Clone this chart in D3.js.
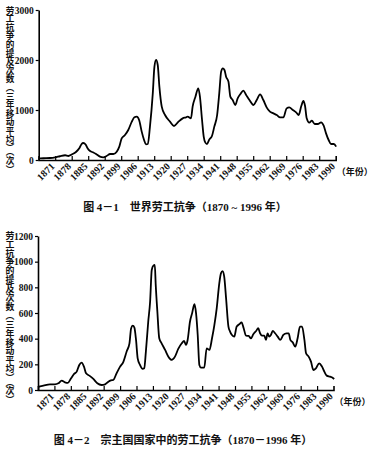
<!DOCTYPE html>
<html><head><meta charset="utf-8">
<script src="https://cdn.jsdelivr.net/npm/d3@7"></script>
<style>
html,body{margin:0;padding:0;background:#fff;}
svg{display:block;}
</style>
</head><body>
<svg id="c" width="372" height="460"></svg>
<script>
// ---- data ----
const xTickYears = [1871,1878,1885,1892,1899,1906,1913,1920,1927,1934,1941,1948,1955,1962,1969,1976,1983,1990];
const yTicks1 = [0,1000,2000,3000];
const yTicks2 = [0,200,400,600,800,1000,1200];

const years1 = [1871,1873,1875.8,1878,1880,1882.2,1883.6,1885,1886.8,1888.3,1889.2,1889.9,1890.9,1891.8,1892.8,1894.2,1895.6,1897,1898.4,1899.8,1901.3,1902.7,1904.1,1905.2,1906.2,1907.6,1909,1910.5,1911.6,1912.6,1913.6,1914.7,1915.7,1916.5,1917.3,1918.2,1919.4,1920.1,1920.8,1921.5,1922.2,1923.2,1924.6,1926.7,1928.4,1930.3,1932.1,1933.5,1934.2,1935.6,1936.3,1937.5,1938.7,1939.4,1940.3,1941,1941.7,1942.4,1943.4,1944.5,1945.5,1946.7,1947.6,1948.4,1949.1,1949.8,1950.5,1951.5,1952.3,1953.3,1954.4,1955.4,1956.6,1957.8,1959,1960.4,1962.1,1963.5,1964.9,1966.3,1967.7,1969.1,1970.6,1972,1973.4,1974.8,1976.2,1977.3,1978.8,1980.2,1981.3,1982.4,1983.3,1984,1984.7,1985.8,1986.9,1988.1,1989.4,1990.8,1991.9,1992.9,1994,1995,1996.2,1997.2];
const values1 = [30,35,40,53,75,95,80,110,160,240,320,340,310,230,180,150,110,67,53,80,120,120,167,267,433,500,600,767,853,867,800,567,400,313,320,667,1333,1867,2000,1900,1467,1067,900,767,680,767,833,853,867,833,1067,1267,1433,1267,800,467,347,320,413,480,667,900,1333,1767,1833,1800,1667,1567,1267,1200,1100,1233,1320,1387,1300,1200,1100,1200,1313,1200,1053,967,933,900,853,853,1033,1053,1000,953,900,1080,1180,1080,833,747,787,720,720,753,687,533,400,320,320,267];

const years2 = [1871,1873.3,1876.1,1878.2,1879.7,1881.1,1882.5,1883.7,1885.1,1886.4,1887.5,1888.6,1889.6,1890.6,1891.5,1892.9,1894.6,1896.3,1898.1,1899.6,1901,1902.1,1903.1,1904.5,1906,1907.4,1908.8,1910,1910.7,1911.4,1912.1,1912.8,1913.5,1914.5,1915.6,1916.3,1917,1918,1918.8,1919.5,1920.2,1920.8,1921.2,1921.9,1922.7,1923.7,1925.2,1926.6,1928,1929.4,1930.8,1932.3,1933.3,1934.1,1934.8,1935.8,1936.7,1937.7,1938.4,1939.1,1939.8,1940.5,1941.9,1942.9,1944.1,1945.2,1946.2,1947.2,1948.3,1949,1949.7,1950.4,1951.2,1952.2,1952.9,1953.7,1954.7,1955.7,1956.8,1957.8,1958.7,1959.7,1960.8,1961.8,1962.8,1964,1964.9,1965.7,1966.5,1967.5,1968.2,1968.9,1969.6,1970.3,1971.1,1972.1,1973.2,1974.3,1975.6,1977,1977.9,1978.6,1979.6,1980.7,1981.7,1982.7,1983.6,1984.6,1985.3,1986.4,1987.4,1988.4,1989.5,1990.9,1992.1,1993.1,1994.1,1995.5,1996.6,1997.3];
const values2 = [25,34,44,44,52,73,60,55,91,125,143,195,213,182,130,112,86,52,39,44,65,75,78,130,182,220,300,364,480,501,486,390,247,195,164,169,299,532,688,935,969,974,818,610,403,364,312,260,234,260,320,364,382,351,390,532,597,668,597,429,195,174,174,325,312,403,506,636,831,909,927,883,714,494,455,429,416,494,512,527,481,423,421,403,434,460,481,442,423,423,390,442,416,429,460,442,416,390,429,442,442,390,371,338,403,494,494,390,286,260,221,156,169,208,182,143,112,104,96,86];

const yLabelText = "劳工抗争的提及次数（三年移动平均）（次）";
const xUnitText = "（年份）";
const title1 = "图 4－1　世界劳工抗争（1870 ~ 1996 年）";
const title2 = "图 4－2　宗主国国家中的劳工抗争（1870－1996 年）";

const svg = d3.select("#c");
const serif = "'Liberation Serif','Noto Sans CJK SC',serif";
const cjk = "'Noto Sans CJK SC',sans-serif";

function drawChart(cfg){
  const g = svg.append("g");
  const x = d3.scaleLinear().domain([1871,1997]).range([cfg.x0, cfg.x1]);
  const y = d3.scaleLinear().domain([0, cfg.ymax]).range([cfg.yb, cfg.yt]);

  // x axis
  const xa = d3.axisBottom(x).tickValues(xTickYears).tickFormat(d3.format("d"))
      .tickSizeInner(-4).tickSizeOuter(-4);
  const gx = g.append("g").attr("transform",`translate(0,${cfg.yb})`).call(xa);
  gx.select(".domain").attr("stroke","#000").attr("stroke-width",1.6);
  gx.selectAll(".tick line").attr("stroke","#000").attr("stroke-width",1.2);
  gx.selectAll(".tick text")
    .attr("x",0).attr("y",0).attr("dy",0)
    .attr("text-anchor","end")
    .attr("transform","translate(16,7) rotate(-45)")
    .attr("font-family",serif).attr("font-size",10).attr("font-weight","bold").attr("fill","#111");

  // y axis
  const ya = d3.axisLeft(y).tickValues(cfg.yticks).tickFormat(d3.format("d"))
      .tickSizeInner(3).tickSizeOuter(0).tickPadding(2);
  const gy = g.append("g").attr("transform",`translate(${cfg.x0},0)`).call(ya);
  gy.select(".domain").attr("stroke","#000").attr("stroke-width",1.6);
  gy.selectAll(".tick line").attr("stroke","#000").attr("stroke-width",1.2);
  gy.selectAll(".tick text")
    .attr("font-family",serif).attr("font-size",9.5).attr("font-weight","bold").attr("fill","#111");

  // line
  const line = d3.line().x(d=>x(d[0])).y(d=>y(d[1])).curve(d3.curveMonotoneX);
  g.append("path").datum(d3.zip(cfg.years, cfg.values))
    .attr("fill","none").attr("stroke","#000").attr("stroke-width",1.8)
    .attr("stroke-linejoin","round").attr("d",line);

  // y label (vertical writing)
  g.append("text").text(yLabelText)
    .attr("x",10).attr("y",cfg.labTop)
    .style("writing-mode","vertical-rl")
    .style("text-orientation","mixed")
    .attr("font-family",cjk).attr("font-size",cfg.labSize).attr("font-weight","bold").attr("fill","#111");

  // x unit
  g.append("text").text(xUnitText)
    .attr("x",cfg.x1+1).attr("y",cfg.yb+15)
    .attr("font-family",cjk).attr("font-size",9).attr("font-weight","bold").attr("fill","#111");

  // title
  g.append("text").text(cfg.title)
    .attr("x",cfg.titleX).attr("y",cfg.titleY).attr("text-anchor","middle")
    .attr("font-family",serif).attr("font-size",cfg.titleSize).attr("font-weight","bold").attr("fill","#111");
}

drawChart({x0:38.7,x1:335.7,yb:160,yt:10,ymax:3000,yticks:yTicks1,years:years1,values:values1,
  labTop:6,labSize:8.6,title:title1,titleX:185,titleY:211,titleSize:11});
drawChart({x0:38,x1:333.5,yb:390,yt:236,ymax:1200,yticks:yTicks2,years:years2,values:values2,
  labTop:231,labSize:8.9,title:title2,titleX:183,titleY:444,titleSize:11});
</script>
</body></html>
